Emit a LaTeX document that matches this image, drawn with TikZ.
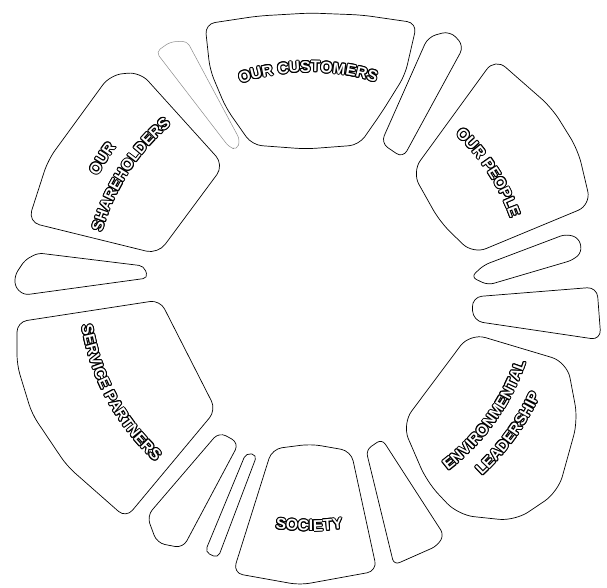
\documentclass[tikz,border=0pt]{standalone}
\usepackage{fontspec}
\newfontfamily\lblbase{Liberation Sans}
\usetikzlibrary{decorations.text}
\newcommand\lblk{\lblbase\bfseries\fontsize{15.5}{17}\selectfont\color{black}}
\newcommand\lblw{\lblbase\bfseries\fontsize{15.5}{17}\selectfont\color{white}}
% #1 start angle, #2 end angle, #3 baseline radius, #4 text
\newcommand\arclabel[4]{%
  \foreach \oa in {0,30,...,330}{%
    \path[shift={(310,297)}, shift={(\oa:1.0)}, decorate,
      decoration={text along path, text align=center, text={|\lblk|#4}}]
      (#1:#3) arc[start angle=#1, end angle=#2, radius=#3];
  }%
  \path[shift={(310,297)}, decorate,
    decoration={text along path, text align=center, text={|\lblw|#4}}]
    (#1:#3) arc[start angle=#1, end angle=#2, radius=#3];
}
\begin{document}
\begin{tikzpicture}[x=1pt,y=1pt,
  blob/.style={draw=black, line width=0.7pt, rounded corners=10pt, line join=round},
  faintblob/.style={blob, draw=black!45, line width=0.5pt}]
\fill[white] (0,0) rectangle (607,587);
\useasboundingbox (0,0) rectangle (607,587);
\begin{scope}[shift={(0,587)}, yscale=-1]
  % our customers
  \draw[blob] (205,24) -- (258,16) -- (310,13) -- (362,15) -- (417,23) -- (405,75)
    -- (382,112) -- (359,145) -- (306,149) -- (252,145) -- (226,108) -- (210,70) -- cycle;
  % faint thin blob
  \draw[faintblob, rounded corners=5pt] (156,52) -- (170,42) -- (187,41) -- (240,140)
    -- (237,150) -- (229,147) -- cycle;
  % blob right of customers
  \draw[blob, rounded corners=8pt] (428,37) -- (450,31) -- (464,46) -- (403,158) -- (381,143) -- cycle;
  % our people
  \draw[blob, rounded corners=14pt] (495,58) -- (552,108) -- (578,150) -- (591,205)
    -- (473,254) -- (440,222) -- (412,172) -- cycle;
  % right blobs
  \draw[blob, rounded corners=6pt] (471,277) -- (484,265) -- (566,234) -- (579,238)
    -- (582,252) -- (573,260) -- (488,285) -- cycle;
  \draw[blob] (472,297) -- (597,287) -- (601,340) -- (473,321) -- cycle;
  % environmental leadership
  \draw[blob, rounded corners=16pt] (470,333) -- (567,362) -- (578,420) -- (558,492)
    -- (515,521) -- (458,515) -- (427,482) -- (402,424) -- cycle;
  % blob right of society
  \draw[blob, rounded corners=6pt] (366,450) -- (382,439) -- (444,535) -- (437,546) -- (394,565) -- cycle;
  % society
  \draw[blob] (272,449) -- (311,444) -- (351,451) -- (377,571) -- (300,585) -- (233,573) -- cycle;
  % narrow blob left of society
  \draw[blob, rounded corners=5pt] (246,453) -- (257,455) -- (218,558) -- (205,552) -- cycle;
  % blob
  \draw[blob, rounded corners=8pt] (219,432) -- (239,443) -- (183,548) -- (157,543) -- (147,516) -- cycle;
  % service partners
  \draw[blob] (17,322) -- (160,300) -- (216,410) -- (126,518) -- (67,466) -- (32,414)
    -- (17,365) -- cycle;
  % left blob
  \draw[blob, rounded corners=5pt] (24,295) -- (15,287) -- (15,275) -- (25,260) -- (38,253)
    -- (144,266) -- (148,278) -- cycle;
  % our shareholders
  \draw[blob, rounded corners=12pt] (110,75) -- (140,72) -- (224,165) -- (158,254)
    -- (28,222) -- (48,160) -- cycle;
\end{scope}
% labels
\arclabel{130.5}{50.5}{218}{OUR CUSTOMERS}
\arclabel{73.3}{-6.7}{213}{OUR PEOPLE}
\arclabel{187.3}{107.3}{216}{SHAREHOLDERS}
\arclabel{187.7}{107.7}{241}{OUR}
\arclabel{168.4}{248.4}{231}{SERVICE PARTNERS}
\arclabel{-75.6}{4.4}{227.5}{ENVIRONMENTAL}
\arclabel{-75.9}{4.1}{253}{LEADERSHIP}
\arclabel{-130.2}{-50.2}{241}{SOCIETY}
\end{tikzpicture}
\end{document}
